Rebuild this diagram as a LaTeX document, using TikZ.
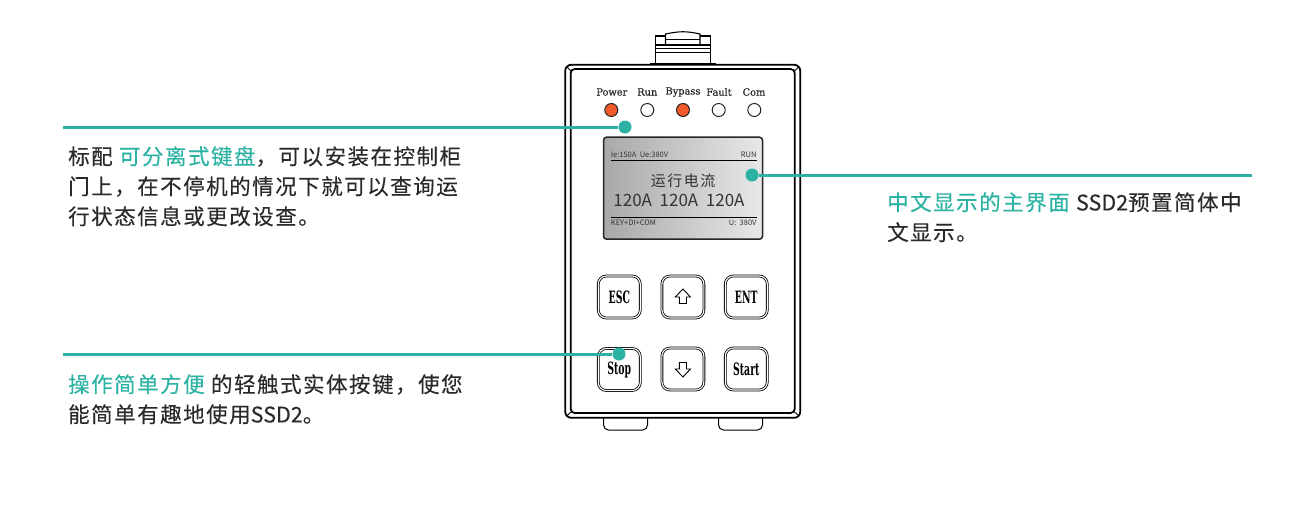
\documentclass[tikz,border=0pt]{standalone}
\usepackage{fontspec}
\usepackage{xcolor}
\setmainfont{Noto Sans CJK SC}
\newfontfamily\cnfont[LetterSpace=7,FakeBold=0.2]{Noto Sans CJK SC}
\newfontfamily\latinfont[FakeBold=0.2]{Noto Sans CJK SC}
\newfontfamily\ledfont[FakeBold=0.35]{DejaVu Serif}
\newfontfamily\keyfont{DejaVu Serif}
\definecolor{tealline}{HTML}{2BB2A3}
\definecolor{ledorange}{HTML}{F1592A}
\definecolor{bodytext}{HTML}{2A2A2A}
\newcommand{\hl}[1]{\textcolor{tealline}{#1}}
\begin{document}
\begin{tikzpicture}[x=1pt, y=-1pt,
    body box/.style={draw=black, line width=1.8pt, rounded corners=6pt, fill=white, inner sep=0pt},
    led node/.style={circle, draw=black!85, line width=1pt, minimum size=13pt, inner sep=0pt, fill=white},
    led label/.style={font=\ledfont\fontsize{9.8}{10}\selectfont, text=black!85, inner sep=0pt},
    key node/.style={draw=black, line width=0.8pt, double=white, double distance=1.1pt, rounded corners=8pt, minimum width=42pt, minimum height=42pt, inner sep=0pt, fill=white, font=\keyfont\bfseries\fontsize{17}{18}\selectfont},
    foot node/.style={draw=black, line width=1pt, rounded corners=5pt, minimum width=44pt, minimum height=20pt, inner sep=0pt, fill=white},
    screen text/.style={inner sep=0pt, text=black!80},
    small text/.style={screen text, font=\fontsize{7.5}{8}\selectfont},
    dot node/.style={circle, fill=tealline, minimum size=13pt, inner sep=0pt},
    lead line/.style={draw=tealline, line width=3pt},
    info text/.style={anchor=north west, inner sep=0pt, align=left, text=bodytext, font=\cnfont\fontsize{21.5}{30}\selectfont}]
    \useasboundingbox (0,0) rectangle (1312,512);

    % clamp on top
    \draw[line width=1.1pt] (665.5,45) -- (665.5,34) .. controls (680,31) and (686,31) .. (700,34) -- (700,45);
    \draw[line width=1.1pt] (665.5,36) -- (655.5,36) -- (655.5,64) (700,36) -- (710.5,36) -- (710.5,64);
    \draw[line width=1.1pt] (665.5,39.5) -- (700,39.5) (655.5,45) -- (710.5,45) (655.5,48.5) -- (710.5,48.5) (655.5,52.5) -- (710.5,52.5);
    \draw[line width=1.1pt] (650,64) -- (716,64);

    % feet and housing
    \node[foot node] (footl) at (625.5,420) {};
    \node[foot node] (footr) at (740.5,420) {};
    \node[body box, minimum width=235pt, minimum height=353pt] (outer) at (682.7,241.3) {};
    \node[body box, rounded corners=4pt, minimum width=224pt, minimum height=344pt] (inner) at (682.7,241) {};
    \draw[line width=0.9pt] (566.5,66.5) -- (571,71) (799,66.5) -- (794.5,71) (566.5,416) -- (571,412) (799,416) -- (794.5,412);

    % leds
    \node[led node, fill=ledorange] (power) at (611.3,110) {};
    \node[led node] (run) at (647.3,110) {};
    \node[led node, fill=ledorange] (bypass) at (683,110) {};
    \node[led node] (fault) at (718.7,110) {};
    \node[led node] (com) at (754.3,110) {};
    \node[led label] at (611.8,92) {Power};
    \node[led label] at (647.3,92) {Run};
    \node[led label] at (683,92) {Bypass};
    \node[led label] at (719,92) {Fault};
    \node[led label] at (754,92) {Com};

    % screen
    \node[draw=black!85, line width=1.5pt, rounded corners=3pt, left color=black!34, right color=black!9, minimum width=159pt, minimum height=102pt, inner sep=0pt] (screen) at (683,188.2) {};
    \draw[line width=0.9pt] (610.7,160.3) -- (756.7,160.3) (610.7,217.3) -- (756.7,217.3);
    \node[small text, anchor=west] at (610.7,154.5) {Ie:150A\ \ Ue:380V};
    \node[small text, anchor=east] at (756.7,154.5) {RUN};
    \node[screen text, font=\fontsize{15}{16}\selectfont\addfontfeature{LetterSpace=10}] at (683,180.5) {运行电流};
    \node[screen text, font=\fontsize{17}{18}\selectfont] at (679,200.5) {120A\ \ 120A\ \ 120A};
    \node[small text, anchor=west] at (610.7,223) {KEY+DI+COM};
    \node[small text, anchor=east] at (756.7,223) {U:\ \ 380V};

    % keys
    \node[key node] (esc) at (619.3,297) {\scalebox{0.55}[1]{ESC}};
    \node[key node] (up) at (682.9,297) {};
    \node[key node] (ent) at (746.3,297) {\scalebox{0.55}[1]{ENT}};
    \node[key node] (stop) at (619.3,369.5) {\scalebox{0.55}[1]{Stop}};
    \node[key node] (down) at (682.9,369) {};
    \node[key node] (start) at (746.3,369) {\scalebox{0.55}[1]{Start}};
    \draw[line width=0.9pt, line join=miter] (682.9,289) -- (690.5,297) -- (686.5,297) -- (686.5,303.5) -- (679.3,303.5) -- (679.3,297) -- (675.3,297) -- cycle;
    \draw[line width=0.9pt, line join=miter] (682.9,377) -- (690.5,369) -- (686.5,369) -- (686.5,362.5) -- (679.3,362.5) -- (679.3,369) -- (675.3,369) -- cycle;

    % leaders
    \node[dot node] (dot1) at (625,127) {};
    \node[dot node] (dot2) at (752,175) {};
    \node[dot node] (dot3) at (619,354) {};
    \coordinate (end1) at (63,127);
    \coordinate (end2) at (1252,175);
    \coordinate (end3) at (63,354);
    \path[lead line]
        (end1) edge (dot1)
        (end2) edge (dot2)
        (end3) edge (dot3);

    % texts
    \node[info text] (text1) at (68,146) {标配 \hl{可分离式键盘}，可以安装在控制柜\\门上，在不停机的情况下就可以查询运\\行状态信息或更改设查。};
    \node[info text] (text2) at (887,192) {\hl{中文显示的主界面} {\latinfont SSD2}预置简体中\\文显示。};
    \node[info text] (text3) at (68,374) {\hl{操作简单方便} 的轻触式实体按键，使您\\能简单有趣地使用{\latinfont SSD2}。};
\end{tikzpicture}
\end{document}
